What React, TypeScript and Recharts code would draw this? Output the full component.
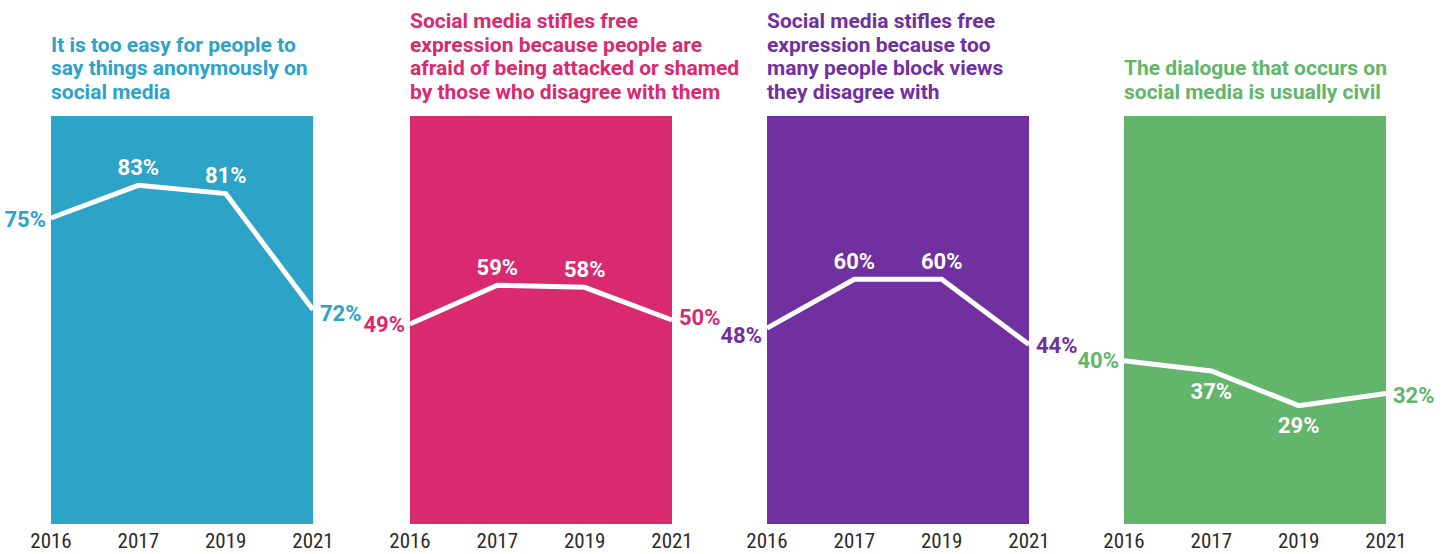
import React from "react";
import { CartesianGrid, LabelList, Line, LineChart, XAxis, YAxis } from "recharts";

const years = ["2016", "2017", "2019", "2021"];

// values as drawn in the picture (the 2021 point of the first panel sits near 52%, though labelled 72%)
const anonymousValues = [75, 83, 81, 52.5];
const anonymousLabels = ["75%", "83%", "81%", "72%"];

const shamedValues = [49, 58.5, 58, 50];
const shamedLabels = ["49%", "59%", "58%", "50%"];

const blockValues = [48, 60, 60, 44];
const blockLabels = ["48%", "60%", "60%", "44%"];

const civilValues = [40, 37.5, 29, 32];
const civilLabels = ["40%", "37%", "29%", "32%"];

const anonymousTitle = ["It is too easy for people to", "say things anonymously on", "social media"];
const shamedTitle = [
  "Social media stifles free",
  "expression because people are",
  "afraid of being attacked or shamed",
  "by those who disagree with them",
];
const blockTitle = ["Social media stifles free", "expression because too", "many people block views", "they disagree with"];
const civilTitle = ["The dialogue that occurs on", "social media is usually civil"];

const MARGIN_X = 60;
const PLOT_W = 262;

interface PanelProps {
  left: number;
  color: string;
  title: string[];
  values: number[];
  labels: string[];
  below?: boolean;
  edgeDy: [number, number];
}

const YearTick = (props: any) => {
  const { x, y, payload } = props;
  return (
    <text
      x={x}
      y={y + 24}
      textAnchor="middle"
      fill="#2b2b2b"
      fontSize={21}
      fontFamily="'Liberation Sans Narrow', 'Roboto Condensed', Roboto, sans-serif"
    >
      {payload.value}
    </text>
  );
};

const Panel: React.FC<PanelProps> = ({ left, color, title, values, labels, below, edgeDy }) => {
  const data = years.map((year, i) => ({ year, value: values[i] }));

  const renderLabel = (props: any) => {
    const { x, y, index } = props;
    const last = values.length - 1;
    let tx = x;
    let ty = y;
    let anchor: "start" | "middle" | "end" = "middle";
    let fill = "#ffffff";
    if (index === 0) {
      tx = x - 5;
      ty = y + edgeDy[0];
      anchor = "end";
      fill = color;
    } else if (index === last) {
      tx = x + 7;
      ty = y + edgeDy[1];
      anchor = "start";
      fill = color;
    } else {
      ty = below ? y + 20 : y - 18;
    }
    return (
      <text
        key={`lbl-${index}`}
        x={tx}
        y={ty}
        textAnchor={anchor}
        dominantBaseline="central"
        fill={fill}
        fontSize={22}
        fontWeight={700}
        fontFamily="Roboto, sans-serif"
      >
        {labels[index]}
      </text>
    );
  };

  return (
    <>
      <div
        style={{
          position: "absolute",
          left,
          top: 0,
          height: 104,
          display: "flex",
          flexDirection: "column",
          justifyContent: "flex-end",
          color,
          fontFamily: "Roboto, sans-serif",
          fontWeight: 700,
          fontSize: 21,
          lineHeight: "23.5px",
          whiteSpace: "nowrap",
        }}
      >
        {title.map((line) => (
          <div key={line}>{line}</div>
        ))}
      </div>
      <div style={{ position: "absolute", left: left - MARGIN_X, top: 0 }}>
        <LineChart
          width={PLOT_W + 2 * MARGIN_X}
          height={554}
          data={data}
          margin={{ top: 116, right: MARGIN_X, bottom: 0, left: MARGIN_X }}
        >
          <CartesianGrid horizontal={false} vertical={false} fill={color} fillOpacity={1} stroke="none" />
          <XAxis
            dataKey="year"
            axisLine={false}
            tickLine={false}
            tickSize={0}
            tickMargin={0}
            height={30}
            interval={0}
            tick={<YearTick />}
          />
          <YAxis hide domain={[0, 100]} />
          <Line
            type="linear"
            dataKey="value"
            stroke="#ffffff"
            strokeWidth={5}
            strokeLinejoin="miter"
            dot={false}
            activeDot={false}
            isAnimationActive={false}
          >
            <LabelList dataKey="value" content={renderLabel} />
          </Line>
        </LineChart>
      </div>
    </>
  );
};

export default function App() {
  return (
    <div style={{ position: "absolute", left: 0, top: 0, width: 1447, height: 554, background: "#ffffff" }}>
      <Panel left={51} color="#2ca3c7" title={anonymousTitle} values={anonymousValues} labels={anonymousLabels} edgeDy={[1, 4]} />
      <Panel left={410} color="#d9296f" title={shamedTitle} values={shamedValues} labels={shamedLabels} edgeDy={[0, -3]} />
      <Panel left={767} color="#7030a0" title={blockTitle} values={blockValues} labels={blockLabels} edgeDy={[7, 1]} />
      <Panel left={1124} color="#62b56a" title={civilTitle} values={civilValues} labels={civilLabels} below edgeDy={[0, 2]} />
    </div>
  );
}
